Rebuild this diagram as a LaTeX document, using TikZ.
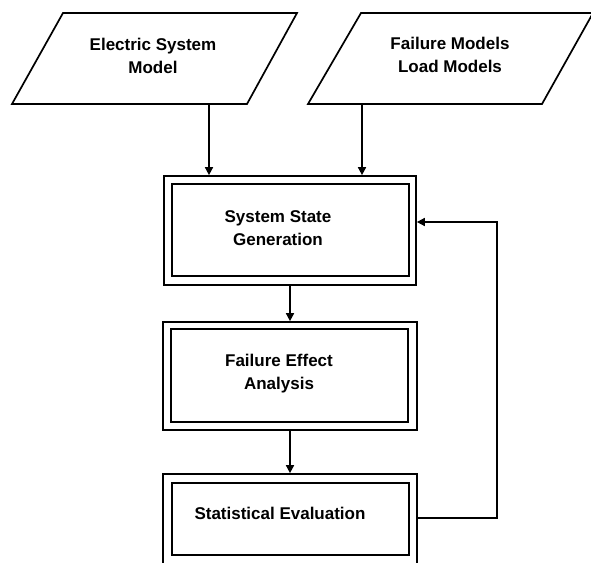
\documentclass[tikz,border=0pt]{standalone}
\usepackage{fontspec}
\setmainfont{Liberation Sans}
\usetikzlibrary{arrows.meta}
\begin{document}
\begin{tikzpicture}[x=1pt,y=-1pt,
  para/.style={draw=black,line width=1.7pt,line join=miter},
  outerbox/.style={draw=black,line width=1.7pt,minimum width=#1,inner sep=0pt},
  innerbox/.style={draw=black,line width=2.4pt},
  label/.style={font=\fontsize{17}{22.5}\selectfont\bfseries,align=center,inner sep=0pt},
  conn/.style={draw=black,line width=1.6pt,-{Triangle[length=8pt,width=8pt]}},
  line/.style={draw=black,line width=1.6pt}]
\useasboundingbox (0,0) rectangle (591,562);
% input parallelograms
\draw[para] (63,13) -- (297,13) -- (247,104) -- (12,104) -- cycle;
\draw[para] (361,13) -- (593,13) -- (542,104) -- (308,104) -- cycle;
\node[label] (p1) at (153,56) {Electric System\\Model};
\node[label] (p2) at (450,55) {Failure Models\\Load Models};
\coordinate (p1out) at (209,104);
\coordinate (p2out) at (362,104);
% process boxes
\node[outerbox=252pt,minimum height=109pt] (b1) at (290,230.5) {};
\draw[innerbox] ([shift={(9,9)}]b1.north west) rectangle ([shift={(-8,-10)}]b1.south east);
\node[label] (t1) at (278,228) {System State\\Generation};
\node[outerbox=254pt,minimum height=108pt] (b2) at (290,376) {};
\draw[innerbox] ([shift={(9,8)}]b2.north west) rectangle ([shift={(-10,-9)}]b2.south east);
\node[label] (t2) at (279,373.5) {Failure Effect\\Analysis};
\node[outerbox=254pt,minimum height=92pt] (b3) at (290,520) {};
\draw[innerbox] ([shift={(10,10)}]b3.north west) rectangle ([shift={(-9,-12)}]b3.south east);
\node[label] (t3) at (280,513) {Statistical Evaluation};
% connectors
\draw[conn] (p1out) -- (p1out |- b1.north);
\draw[conn] (p2out) -- (p2out |- b1.north);
\draw[conn] (b1.south) -- (b2.north);
\draw[conn] (b2.south) -- (b3.north);
\coordinate (fbin) at ([yshift=8.5pt]b1.east);
\draw[conn] ([yshift=2pt]b3.east) -| (497,222) -- (fbin);
\end{tikzpicture}
\end{document}
